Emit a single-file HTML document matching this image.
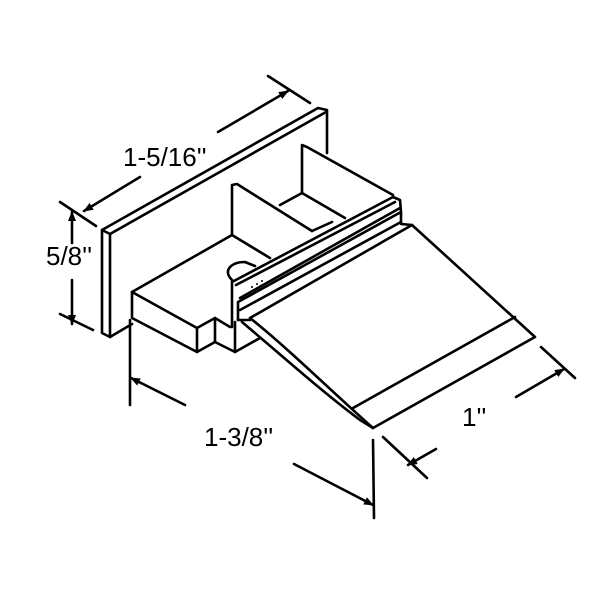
<!DOCTYPE html>
<html><head><style>body{margin:0;background:#fff}svg{display:block}</style></head><body>
<svg width="600" height="600" viewBox="0 0 600 600" xmlns="http://www.w3.org/2000/svg">
<defs><marker id="a" markerWidth="10" markerHeight="10" refX="9" refY="5" orient="auto" markerUnits="userSpaceOnUse"><path d="M0,1 L10,5 L0,9 Z" fill="#000"/></marker></defs>
<g fill="none" stroke="#000" stroke-width="2.6" stroke-linejoin="round" stroke-linecap="round">
<!-- back plate -->
<path d="M102,230 L318,108 L327,110 L327,153"/>
<path d="M110,234 L326,112"/>
<path d="M102,230 L102,333 L110,337 L110,234 L102,230"/>
<path d="M110,337 L132,324"/>
<!-- base block -->
<path d="M132,292 L232,235"/>
<path d="M132,292 L132,318 L197,352 L197,328 L132,292"/>
<path d="M197,328 L215,318 L230,327"/>
<path d="M197,352 L215,342 L215,318"/>
<path d="M215,342 L235,352 L235,322"/>
<path d="M235,352 L260,338"/>
<!-- ribs -->
<path d="M232,235 L232,185 L237,184 L312,231"/>
<path d="M232,235 L270,258"/>
<path d="M302,193 L302,145 L307,147 L393,195"/>
<path d="M280,205 L302,193 L345,218"/>
<path d="M312,231 L332,222"/>
<!-- rail -->
<path d="M232,282 L393,197 L400,200 L401,212 L238,302 L238,320"/>
<path d="M236,285 L395,202"/>
<path d="M240,298 L400,208"/>
<path d="M240,310 L401,222"/>
<path d="M232,282 L232,327"/>
<path d="M238,320 L250,320"/>
<path d="M401,212 L401,224 L412,225"/>
<path d="M232,280 C222,270 232,262 245,262 L255,266"/>
<!-- ramp -->
<path d="M250,318 L412,225 L535,337 L373,428"/>
<path d="M250,318 C290,350 330,390 373,428"/>
<path d="M242,322 C280,354 320,390 360,420 L373,428"/>
<path d="M353,408 L515,317"/>
<!-- dims -->
<path d="M60,202 L96,226"/>
<path d="M268,76 L310,103"/>
<path d="M140,177 L84,211" marker-end="url(#a)"/>
<path d="M218,132 L288,91" marker-end="url(#a)"/>
<path d="M72,243 L72,212" marker-end="url(#a)"/>
<path d="M72,280 L72,324" marker-end="url(#a)"/>
<path d="M60,314 L93,330"/>
<path d="M130,320 L130,405"/>
<path d="M185,405 L131,378" marker-end="url(#a)"/>
<path d="M294,464 L373,505" marker-end="url(#a)"/>
<path d="M373,440 L374,518"/>
<path d="M383,437 L427,478"/>
<path d="M436,449 L408,465" marker-end="url(#a)"/>
<path d="M516,397 L564,369" marker-end="url(#a)"/>
<path d="M541,347 L575,378"/>
</g>
<g fill="#000" font-family="Liberation Sans, sans-serif" font-size="26">
<text x="123" y="166">1-5/16''</text>
<text x="46" y="265">5/8''</text>
<text x="204" y="446">1-3/8''</text>
<text x="462" y="426">1''</text>
</g>
<g fill="#000"><circle cx="252" cy="287" r="1"/><circle cx="257" cy="284" r="1"/><circle cx="262" cy="281" r="1"/></g>
</svg>
</body></html>
